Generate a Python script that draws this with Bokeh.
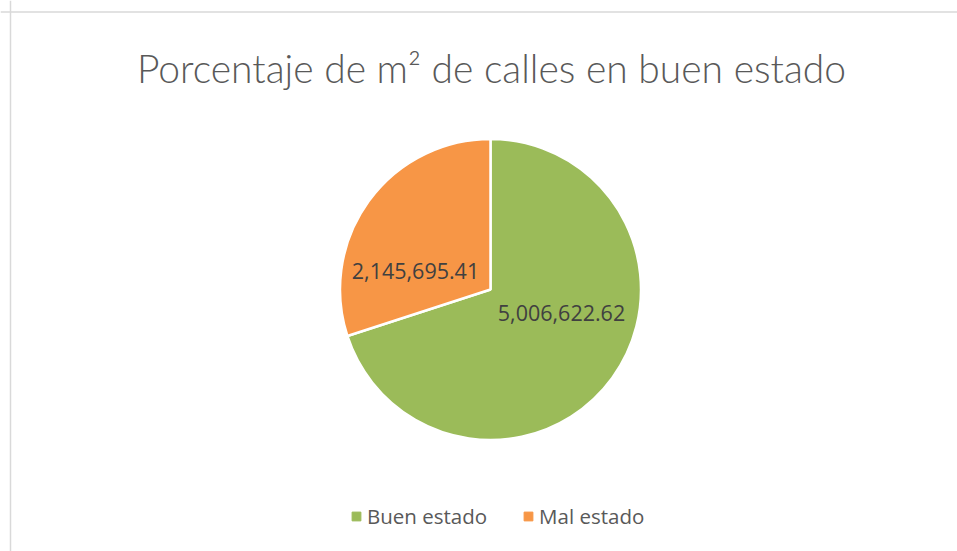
import math
from bokeh.plotting import figure
from bokeh.models import ColumnDataSource, Label, Span, Legend, LegendItem
from bokeh.embed import file_html
from bokeh.resources import INLINE

# ---- data ----
categories = ["Buen estado", "Mal estado"]
values = [5006622.62, 2145695.41]
value_labels = ["5,006,622.62", "2,145,695.41"]
colors = ["#9BBB59", "#F79646"]
title_text = "Porcentaje de m² de calles en buen estado"

# ---- layout (pixel-like data space) ----
W, H = 957, 551
cx, cy, R = 490, 262, 150.5
label_pos = [(561, 239), (415, 281)]  # excel label placements

total = sum(values)
# Excel: first slice starts at 12 o'clock, going clockwise
starts, ends = [], []
a = math.pi / 2
for v in values:
    sweep = 2 * math.pi * v / total
    ends.append(a)
    starts.append(a - sweep)
    a -= sweep

p = figure(width=W, height=H, x_range=(0, W), y_range=(0, H),
           output_backend="svg", toolbar_location=None, min_border=0)
p.axis.visible = False
p.grid.visible = False
p.outline_line_color = None
p.background_fill_color = "white"
p.border_fill_color = "white"

src = ColumnDataSource(dict(start=starts, end=ends, color=colors, cat=categories))
p.wedge(x=cx, y=cy, radius=R, start_angle="start", end_angle="end",
        fill_color="color", line_color="white", line_width=2.5, source=src)

# border (left and top only visible in reference)
p.add_layout(Span(location=10, dimension="height", line_color="#D9D9D9", line_width=1.5))
p.add_layout(Span(location=H - 11.5, dimension="width", line_color="#D9D9D9", line_width=1.5))

# title
p.add_layout(Label(x=491, y=H - 67, text=title_text, text_align="center",
                   text_baseline="alphabetic", text_font="Lato Light",
                   text_font_size="39px", text_color="#595959"))

# data labels
for (lx, ly), t in zip(label_pos, value_labels):
    p.add_layout(Label(x=lx, y=ly, text=t, text_align="center",
                       text_baseline="middle", text_font="Open Sans",
                       text_font_size="21.5px", text_color="#404040"))

# legend with square markers
items = []
for cat, col in zip(categories, colors):
    r = p.scatter(x=[float("nan")], y=[float("nan")], marker="square", size=9,
                  fill_color=col, line_color=col)
    items.append(LegendItem(label=cat, renderers=[r]))
legend = Legend(items=items, orientation="horizontal", location=(345, 21),
                label_text_font="Open Sans", label_text_font_size="20.5px",
                label_text_color="#595959", glyph_width=22, glyph_height=22,
                spacing=30, label_standoff=0, border_line_color=None,
                background_fill_alpha=0, padding=0, margin=0)
p.add_layout(legend, "center")

open("out.html", "w").write(file_html(p, INLINE))
